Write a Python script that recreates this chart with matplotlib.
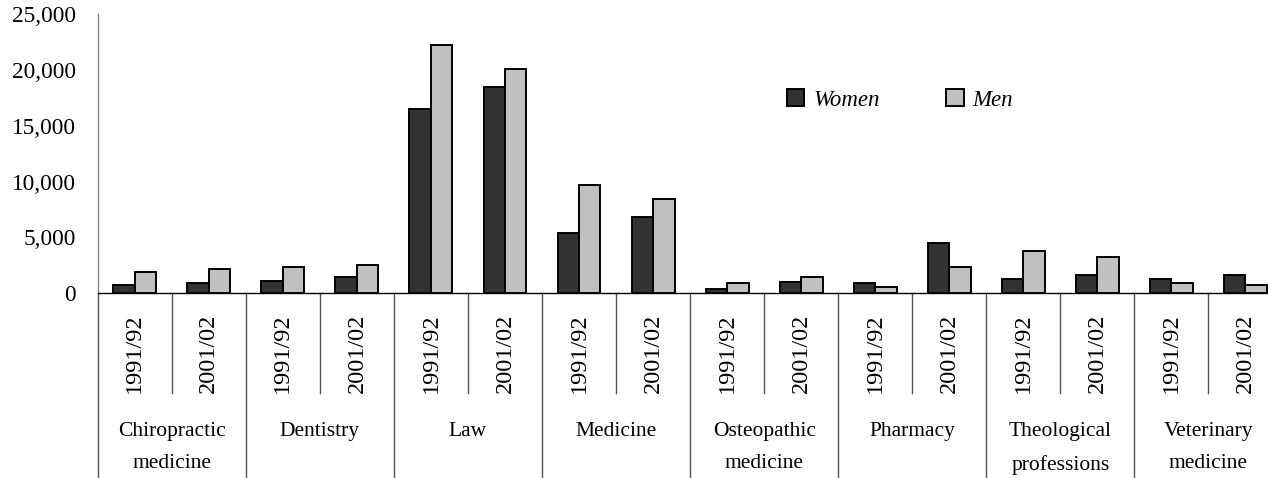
import matplotlib
matplotlib.use("Agg")
import matplotlib.pyplot as plt
import matplotlib.transforms as mtransforms
from matplotlib.ticker import FuncFormatter
import numpy as np

categories = ["Chiropractic\nmedicine", "Dentistry", "Law", "Medicine",
              "Osteopathic\nmedicine", "Pharmacy", "Theological\nprofessions",
              "Veterinary\nmedicine"]
years = ["1991/92", "2001/02"]
women = [750, 920, 1080, 1460, 16500, 18450, 5400, 6800,
         360, 1050, 900, 4500, 1250, 1620, 1250, 1620]
men = [1950, 2180, 2330, 2520, 22200, 20050, 9700, 8450,
       900, 1460, 540, 2340, 3780, 3240, 900, 720]
yticks = [0, 5000, 10000, 15000, 20000, 25000]

plt.rcParams['font.family'] = ['Liberation Serif', 'DejaVu Serif']

W, H = 1268, 478
fig = plt.figure(figsize=(W / 100, H / 100), dpi=100)

left_px, zero_px, top_px = 97.7, 293.3, 14.0
step_px = 74.05
n = len(women)
ax = fig.add_axes([left_px / W, (H - zero_px) / H, n * step_px / W,
                   (zero_px - top_px) / H])

x = np.arange(n)
bw = 0.29
ax.bar(x - bw / 2, women, bw, color='#333333', edgecolor='black',
       linewidth=1.4, label='Women', zorder=3)
ax.bar(x + bw / 2, men, bw, color='#c0c0c0', edgecolor='black',
       linewidth=1.4, label='Men', zorder=3)

ax.set_xlim(-0.5, n - 0.5)
ax.set_ylim(0, 25000)
ax.set_yticks(yticks)
ax.yaxis.set_major_formatter(FuncFormatter(lambda v, p: f"{int(v):,}"))
ax.tick_params(axis='y', length=0, pad=15.5, labelsize=16.8)
ax.set_xticks([])
for s in ['top', 'right']:
    ax.spines[s].set_visible(False)
ax.spines['left'].set_color('#868686')
ax.spines['left'].set_linewidth(1.0)
ax.spines['bottom'].set_color('black')
ax.spines['bottom'].set_linewidth(1.0)

trans = mtransforms.blended_transform_factory(ax.transData, fig.transFigure)
y0 = (H - zero_px) / H
y_inner = (H - 393.3) / H
for b in range(n + 1):
    xb = b - 0.5
    if b % 2 == 0:
        ax.plot([xb, xb], [y0, 0], transform=trans, color='#555555',
                linewidth=1.0, clip_on=False)
    else:
        ax.plot([xb, xb], [y0, y_inner], transform=trans, color='#555555',
                linewidth=1.0, clip_on=False)

for i in range(n):
    ax.text(i, (H - 353) / H, years[i % 2], transform=trans, rotation=90,
            ha='center', va='center', fontsize=17.5)

for k, c in enumerate(categories):
    ax.text(2 * k + 0.5, (H - 422) / H, c, transform=trans, ha='center',
            va='top', fontsize=15.5, linespacing=1.93)

leg = ax.legend(loc='center left', bbox_to_anchor=(787 / W, (H - 100) / H),
                bbox_transform=fig.transFigure, ncol=2, frameon=False,
                borderpad=0, borderaxespad=0, handlelength=0.75,
                handleheight=0.75, handletextpad=0.4, columnspacing=2.9,
                prop={'size': 16.5, 'style': 'italic'})

fig.savefig('out.png', dpi=100)
